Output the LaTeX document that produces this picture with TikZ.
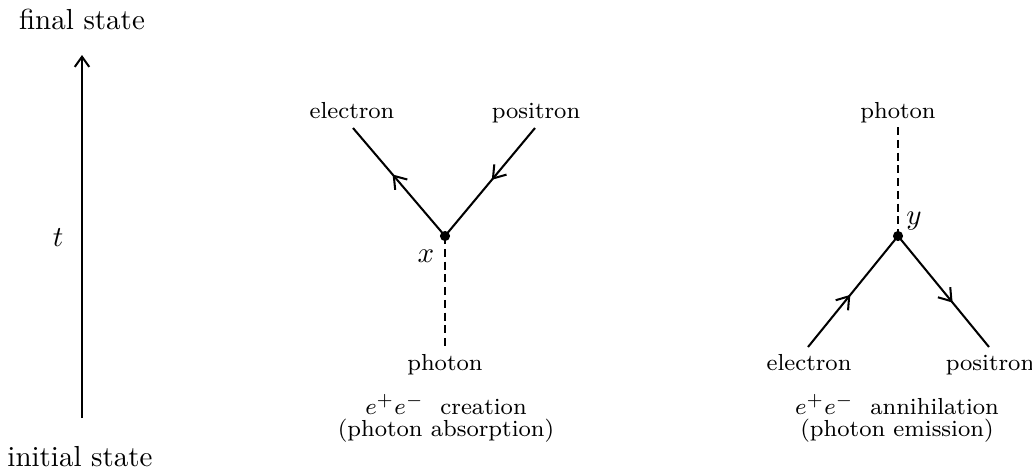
\documentclass[tikz,border=0pt]{standalone}
\usetikzlibrary{arrows.meta, decorations.markings}
\tikzset{
  lbl/.style={font=\footnotesize, anchor=base, inner sep=0pt},
  big/.style={font=\normalsize, anchor=base, inner sep=0pt},
  fermion/.style={line width=0.7pt,
    decoration={markings, mark=at position #1 with {\arrow{Straight Barb[length=4pt,width=5.5pt]}}},
    postaction={decorate}},
  fermion/.default=0.55,
  photon/.style={line width=0.7pt, dash pattern=on 2.8pt off 1.6pt},
  vtx/.style={circle, fill, inner sep=0pt, minimum size=3.5pt},
  tarr/.style={-{Straight Barb[length=3.5pt,width=5pt]}, line width=0.7pt},
}
\begin{document}
\begin{tikzpicture}[x=0.345pt, y=-0.345pt]
  \useasboundingbox (0,0) rectangle (1032,471);
  % time axis
  \coordinate (t0) at (82,418);
  \coordinate (t1) at (82,55);
  \draw[tarr] (t0) -- (t1);
  \node[big] (fin) at (82,29) {final state};
  \node[big] (ini) at (80,466) {initial state};
  \node[big] (tlab) at (58,246) {$t$};

  % pair creation
  \node[vtx] (vx) at (445,236) {};
  \coordinate (el1) at (353,128);
  \coordinate (po1) at (535,128);
  \coordinate (ph1) at (445,346);
  \draw[fermion=0.57] (vx.center) -- (el1);
  \draw[fermion=0.48] (po1) -- (vx.center);
  \draw[photon] (vx.center) -- (ph1);
  \node[lbl] (el1lab) at (352,118) {electron};
  \node[lbl] (po1lab) at (536,118) {positron};
  \node[lbl] (ph1lab) at (445,370) {photon};
  \node[big] (xlab) at (426,262) {$x$};
  \node[lbl] (cap1a) at (446,414) {$e^+e^-$~~creation};
  \node[lbl] (cap1b) at (446,436) {(photon absorption)};

  % pair annihilation
  \node[vtx] (vy) at (898,236) {};
  \coordinate (ph2) at (898,127);
  \coordinate (el2) at (808,347);
  \coordinate (po2) at (989,347);
  \draw[photon] (ph2) -- (vy.center);
  \draw[fermion=0.47] (el2) -- (vy.center);
  \draw[fermion=0.6] (vy.center) -- (po2);
  \node[lbl] (ph2lab) at (898,118) {photon};
  \node[lbl] (el2lab) at (809,370) {electron};
  \node[lbl] (po2lab) at (990,370) {positron};
  \node[big] (ylab) at (914,224) {$y$};
  \node[lbl] (cap2a) at (897,414) {$e^+e^-$~~annihilation};
  \node[lbl] (cap2b) at (897,436) {(photon emission)};
\end{tikzpicture}
\end{document}
